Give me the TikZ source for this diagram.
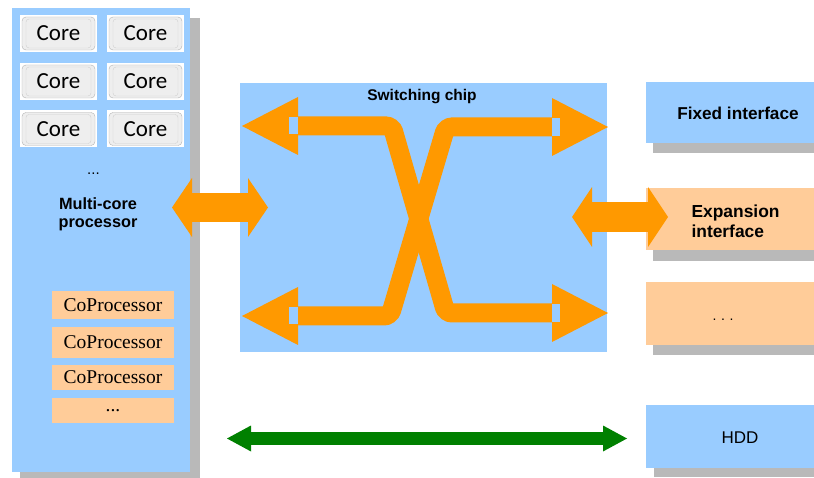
\documentclass[tikz,border=0pt]{standalone}
\usepackage{fontspec}
\setmainfont{Liberation Sans}
\newfontfamily\corefont{Carlito}
\newfontfamily\timesfont{Liberation Serif}
\usetikzlibrary{calc}
\definecolor{panelblue}{HTML}{99CCFF}
\definecolor{fatorange}{HTML}{FF9900}
\definecolor{peach}{HTML}{FFCC99}
\definecolor{linkgreen}{HTML}{008000}
\definecolor{shadowgray}{HTML}{B9B9B9}

% horizontal double-headed block arrow between two tip coordinates
% #1 left tip, #2 right tip, #3 head length, #4 head half-height, #5 shaft width, #6 colour
\newcommand\fatarrow[6]{%
  \draw[#6, line width=#5pt] ([xshift=#3pt-1pt]#1) -- ([xshift=-#3pt+1pt]#2);
  \fill[#6] (#1) -- ++(#3,-#4) -- ++(0,2*#4) -- cycle;
  \fill[#6] (#2) -- ++(-#3,-#4) -- ++(0,2*#4) -- cycle;}

\begin{document}
\begin{tikzpicture}[x=1pt,y=-1pt,
  panel/.style={anchor=north west, inner sep=0pt, outer sep=0pt, draw=none},
  corebox/.style={fill=white, minimum width=77pt, minimum height=37pt, inner sep=0pt,
    font=\corefont\fontsize{23}{23}\selectfont,
    path picture={
      \draw[gray!60, fill=gray!13, rounded corners=4pt]
        ([shift={(2pt,-2pt)}]path picture bounding box.north west)
        rectangle ([shift={(-2pt,2pt)}]path picture bounding box.south east);
      \draw[gray!38, rounded corners=3pt]
        ([shift={(6pt,-4pt)}]path picture bounding box.north west)
        rectangle ([shift={(-6pt,4pt)}]path picture bounding box.south east);
    }},
  cobox/.style={fill=peach, minimum width=122pt, inner sep=0pt,
    font=\timesfont\fontsize{19.5}{19.5}\selectfont},
  shadow/.style={fill=shadowgray},
  bold/.style={font=\bfseries\fontsize{#1}{#1}\selectfont},
]
\useasboundingbox (0,0) rectangle (814,478);
\fill[white] (0,0) rectangle (814,478);

% ---------- multi-core processor panel ----------
\fill[shadow] (20,18) rectangle (200,480);
\node[panel, fill=panelblue, minimum width=178pt, minimum height=464pt] (proc) at (12,8) {};

\node[corebox] (c11) at (58.5,33.5)  {Core};
\node[corebox] (c12) at (145.5,33.5) {Core};
\node[corebox] (c21) at (58.5,81.5)  {Core};
\node[corebox] (c22) at (145.5,81.5) {Core};
\node[corebox] (c31) at (58.5,129)   {Core};
\node[corebox] (c32) at (145.5,129)  {Core};

\node[inner sep=0pt] (coredots) at (93.5,174) {\fontsize{15}{15}\selectfont ...};
\node[bold=16.3, align=center] (proclabel) at (98,214)
  {Multi-core\\[2pt] processor};

\node[cobox, minimum height=28pt] (cp1) at (113,305)   {CoProcessor};
\node[cobox, minimum height=30pt] (cp2) at (113,342.5) {CoProcessor};
\node[cobox, minimum height=25pt] (cp3) at (113,377)   {CoProcessor};
\node[cobox, minimum height=25pt] (cp4) at (113,410.5) {...};

% ---------- switching chip ----------
\node[panel, fill=panelblue, minimum width=367pt, minimum height=269pt] (chip) at (240,83) {};
\node[bold=15.5] (chiplabel) at (422,97) {Switching chip};

% crossing lanes inside the chip
\coordinate (tl) at (242,126);
\coordinate (tr) at (608,127);
\coordinate (bl) at (242,316);
\coordinate (br) at (608,313);
\coordinate (kA1) at (392,126);
\coordinate (kA2) at (446,313);
\coordinate (kB1) at (446,127);
\coordinate (kB2) at (390,316);
\draw[fatorange, line width=19pt, rounded corners=6pt]
  ([xshift=55pt]tl) -- (kA1) -- (kA2) -- ([xshift=-55pt]br);
\draw[fatorange, line width=19pt, rounded corners=6pt]
  ([xshift=-55pt]tr) -- (kB1) -- (kB2) -- ([xshift=55pt]bl);
\fill[fatorange] (tl) -- ++(56,-29) -- ++(0,58) -- cycle;
\fill[fatorange] (bl) -- ++(56,-29) -- ++(0,58) -- cycle;
\fill[fatorange] (tr) -- ++(-56,-29) -- ++(0,58) -- cycle;
\fill[fatorange] (br) -- ++(-56,-29) -- ++(0,58) -- cycle;
% notches at the base of each lane head
\fill[panelblue] ($(tl)+(47,-9)$) rectangle ++(9,17);
\fill[panelblue] ($(bl)+(47,-9)$) rectangle ++(9,17);
\fill[panelblue] ($(tr)+(-56,-9)$) rectangle ++(8,18);
\fill[panelblue] ($(br)+(-56,-9)$) rectangle ++(8,18);

% ---------- interfaces ----------
\fill[shadow] (653,92) rectangle (816,153);
\node[panel, fill=panelblue, minimum width=170pt, minimum height=61pt] (fixed) at (646,82) {};
\node[bold=17.2] (fixedlabel) at (738,113) {Fixed interface};

\fill[shadow] (653,198) rectangle (816,261);
\node[panel, fill=peach, minimum width=170pt, minimum height=62pt] (expan) at (646,188) {};

\fill[shadow] (653,292) rectangle (816,355);
\node[panel, fill=peach, minimum width=170pt, minimum height=63pt] (more) at (646,282) {};
\node (moredots) at (723,320) {\fontsize{14}{14}\selectfont .\,\,.\,\,.};

\fill[shadow] (654,415) rectangle (816,477);
\node[panel, fill=panelblue, minimum width=170pt, minimum height=63pt] (hdd) at (646,405) {};
\node (hddlabel) at (740,438) {\fontsize{17}{17}\selectfont HDD};

% ---------- links ----------
\coordinate (pcL) at (172,207.5);
\coordinate (pcR) at (268,207.5);
\fatarrow{pcL}{pcR}{20}{29.5}{29}{fatorange}

\coordinate (exL) at (572,217);
\coordinate (exR) at (668,217);
\fatarrow{exL}{exR}{20}{30}{30}{fatorange}

\node[bold=17.4, anchor=west, align=left] (expanlabel) at (688,221)
  {Expansion\\[3pt] interface};

\coordinate (hdL) at (227,438.5);
\coordinate (hdR) at (627,438.5);
\fatarrow{hdL}{hdR}{24}{13}{13}{linkgreen}
\end{tikzpicture}
\end{document}
